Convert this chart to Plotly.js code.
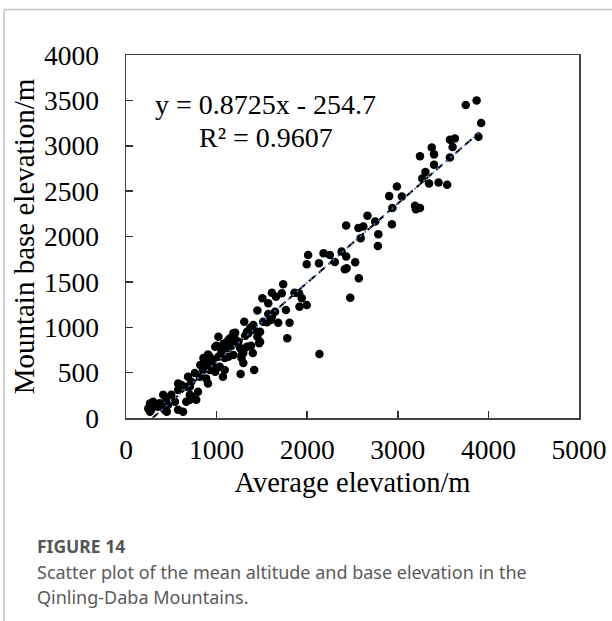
<!DOCTYPE html>
<html>
<head>
<meta charset="utf-8">
<script src="https://cdn.plot.ly/plotly-3.0.1.min.js"></script>
<style>
  html, body { margin: 0; padding: 0; background: #ffffff; }
  #chart { width: 612px; height: 621px; }
</style>
</head>
<body>
<div id="chart"></div>
<script>
// Average elevation (m) of each mountain unit
const avgElevation = [
  3750, 3870, 3920, 3890, 3575, 3630, 3375, 3400, 3605, 3575, 3245, 3400, 3305, 3270, 3345, 3450, 3545,
  2990, 2905, 3045, 2940, 3190, 3245, 3200, 2665, 2750, 2430, 2565, 2620, 2935, 2785, 2590, 2780,
  2380, 2430, 2435, 2415, 2530, 2570, 2475, 2010, 1995, 2180, 2250, 2305, 2130,
  1735, 1610, 1655, 1720, 1860, 1910, 1940, 1995, 1915, 1505, 1570, 1450, 1645, 1765, 1515, 1600,
  1680, 1805, 1305, 1370, 1415, 1335, 1315, 1450, 1405, 1780, 1470, 1380, 1295, 1275, 1400, 1295,
  1415, 1265, 2135, 1020, 1205, 1150, 1095, 1125, 985,
  1570, 1610, 1555, 1390, 1350, 1480, 1185, 1130, 1205, 1240, 1480, 1335, 1000, 1075, 1165, 1055,
  1260, 1295, 1275, 925, 1020, 1130, 1185, 855,
  1050, 1090, 905, 940, 870, 850, 925, 985, 1035, 1090, 1070, 760, 815, 685, 720, 885, 905, 610,
  665, 575, 705, 795, 500, 410, 445, 540, 705, 665, 370, 465, 265, 300, 355, 280, 425, 575, 630,
  245, 775, 575, 705, 725, 450, 265, 375, 820, 890, 960, 985
];
// Mountain base elevation (m) of each mountain unit
const baseElevation = [
  3450, 3500, 3250, 3100, 3065, 3080, 2980, 2905, 2985, 2870, 2885, 2790, 2710, 2640, 2585, 2595, 2570,
  2550, 2445, 2440, 2315, 2340, 2315, 2300, 2230, 2165, 2120, 2095, 2110, 2135, 2025, 1980, 1895,
  1835, 1780, 1650, 1640, 1715, 1540, 1325, 1795, 1695, 1815, 1795, 1720, 1705,
  1475, 1380, 1335, 1375, 1380, 1375, 1320, 1245, 1225, 1320, 1265, 1185, 1170, 1190, 1060, 1080,
  1050, 1050, 1060, 990, 970, 950, 905, 895, 1025, 880, 825, 795, 715, 660, 715, 605,
  530, 485, 705, 895, 940, 880, 825, 770, 785,
  1145, 1115, 1055, 1005, 935, 950, 935, 860, 865, 840, 840, 785, 795, 815, 795, 770,
  770, 750, 695, 675, 675, 675, 695, 660,
  715, 660, 700, 620, 605, 530, 530, 510, 565, 530, 455, 495, 455, 455, 400, 435, 380, 365,
  345, 310, 255, 290, 255, 255, 215, 180, 200, 180, 160, 145, 160, 180, 125, 90, 90, 90, 70,
  105, 200, 380, 345, 235, 70, 70, 160, 585, 565, 640, 550
];
// Linear fit reported in the figure
const slope = 0.8725;
const intercept = -254.7;
const equationText = "y = 0.8725x - 254.7";
const r2Text = "R² = 0.9607";
const xTicks = [0, 1000, 2000, 3000, 4000, 5000];
const yTicks = [0, 500, 1000, 1500, 2000, 2500, 3000, 3500, 4000];
const xTitle = "Average elevation/m";
const yTitle = "Mountain base elevation/m";
const captionHead = "FIGURE 14";
const captionLines = [
  "Scatter plot of the mean altitude and base elevation in the",
  "Qinling-Daba Mountains."
];

const fitX = [290, 3900];
const fitY = fitX.map(v => slope * v + intercept);

const serif = "'Liberation Serif', 'Times New Roman', serif";
const sans = "'Noto Sans', 'Open Sans', sans-serif";

const traces = [
  {
    type: 'scatter', mode: 'markers',
    x: avgElevation, y: baseElevation,
    marker: { color: '#000000', size: 8.5 },
    hoverinfo: 'x+y', showlegend: false
  },
  {
    type: 'scatter', mode: 'lines',
    x: fitX, y: fitY,
    line: { color: '#000000', width: 2, dash: '8px,5px' },
    hoverinfo: 'skip', showlegend: false
  },
  {
    type: 'scatter', mode: 'lines',
    x: fitX, y: fitY,
    line: { color: '#4a7bd0', width: 1.5, dash: '2px,4px' },
    hoverinfo: 'skip', showlegend: false
  }
];

const L = 126, R = 33, T = 55, B = 203;
const plotW = 612 - L - R, plotH = 621 - T - B;
const px2x = p => (p - L) / plotW;
const py2y = p => (T + plotH - p) / plotH;

const captionAnn = captionLines.map((t, i) => ({
  xref: 'paper', yref: 'paper', x: px2x(35), y: py2y(572 + i * 25), xanchor: 'left', yanchor: 'middle',
  text: t, showarrow: false, align: 'left',
  font: { family: sans, size: 18, color: '#5a5a5a' }
}));

const layout = {
  width: 612, height: 621,
  margin: { l: L, r: R, t: T, b: B, pad: 0 },
  paper_bgcolor: '#ffffff', plot_bgcolor: '#ffffff',
  font: { family: serif, size: 27, color: '#000000' },
  showlegend: false,
  xaxis: {
    range: [0, 5000], tickvals: xTicks, ticktext: xTicks.map(String),
    ticks: 'inside', ticklen: 7, tickwidth: 1.5, tickcolor: '#333333',
    showline: true, linecolor: '#444444', linewidth: 1.5, mirror: true,
    showgrid: false, zeroline: false,
    tickfont: { family: serif, size: 27.5, color: '#000000' },
    ticklabelstandoff: 6,
    title: { text: xTitle, font: { family: serif, size: 28.5, color: '#000000' }, standoff: 8 },
    fixedrange: true
  },
  yaxis: {
    range: [0, 4000], tickvals: yTicks, ticktext: yTicks.map(String),
    ticks: 'inside', ticklen: 7, tickwidth: 1.5, tickcolor: '#333333',
    showline: true, linecolor: '#444444', linewidth: 1.5, mirror: true,
    showgrid: false, zeroline: false,
    tickfont: { family: serif, size: 27.5, color: '#000000' },
    ticklabelstandoff: 20,
    title: { text: yTitle, font: { family: serif, size: 29, color: '#000000' }, standoff: 1 },
    fixedrange: true
  },
  annotations: [
    { xref: 'paper', yref: 'paper', x: px2x(265.5), y: py2y(104), xanchor: 'center', yanchor: 'middle',
      text: equationText, showarrow: false, font: { family: serif, size: 28, color: '#000000' } },
    { xref: 'paper', yref: 'paper', x: px2x(265.5), y: py2y(137), xanchor: 'center', yanchor: 'middle',
      text: r2Text, showarrow: false, font: { family: serif, size: 28, color: '#000000' } },
    { xref: 'paper', yref: 'paper', x: px2x(35), y: py2y(546), xanchor: 'left', yanchor: 'middle',
      text: '<b>' + captionHead + '</b>', showarrow: false, align: 'left',
      font: { family: sans, size: 17.5, color: '#555555' } }
  ].concat(captionAnn),
  shapes: [
    { type: 'line', xref: 'paper', yref: 'paper', x0: px2x(4), x1: px2x(612), y0: py2y(9.5), y1: py2y(9.5),
      line: { color: '#c4c4c4', width: 1.5 } },
    { type: 'line', xref: 'paper', yref: 'paper', x0: px2x(4), x1: px2x(4), y0: py2y(9.5), y1: py2y(621),
      line: { color: '#c4c4c4', width: 1.5 } }
  ]
};

Plotly.newPlot('chart', traces, layout, { displayModeBar: false, staticPlot: true });
</script>
</body>
</html>
